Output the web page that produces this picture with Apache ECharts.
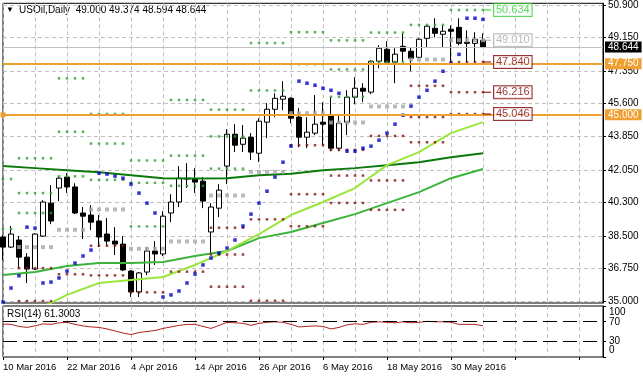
<!DOCTYPE html>
<html>
<head>
<meta charset="utf-8">
<script src="https://cdn.jsdelivr.net/npm/echarts@6/dist/echarts.min.js"></script>
<style>html,body{margin:0;padding:0;background:#fff}#chart{width:643px;height:378px}</style>
</head>
<body>
<div id="chart"></div>
<script>
// trading days shown (one bar each), future slots are added empty
var dates = ['10 Mar 2016','11 Mar 2016','14 Mar 2016','15 Mar 2016','16 Mar 2016','17 Mar 2016','18 Mar 2016','21 Mar 2016','22 Mar 2016','23 Mar 2016','24 Mar 2016','28 Mar 2016','29 Mar 2016','30 Mar 2016','31 Mar 2016','1 Apr 2016','4 Apr 2016','5 Apr 2016','6 Apr 2016','7 Apr 2016','8 Apr 2016','11 Apr 2016','12 Apr 2016','13 Apr 2016','14 Apr 2016','15 Apr 2016','18 Apr 2016','19 Apr 2016','20 Apr 2016','21 Apr 2016','22 Apr 2016','25 Apr 2016','26 Apr 2016','27 Apr 2016','28 Apr 2016','29 Apr 2016','2 May 2016','3 May 2016','4 May 2016','5 May 2016','6 May 2016','9 May 2016','10 May 2016','11 May 2016','12 May 2016','13 May 2016','16 May 2016','17 May 2016','18 May 2016','19 May 2016','20 May 2016','23 May 2016','24 May 2016','25 May 2016','26 May 2016','27 May 2016','30 May 2016','31 May 2016','1 Jun 2016','2 Jun 2016','3 Jun 2016'];
var emptySlots = 15;

// [open, close, low, high]
var ohlc = [
  [38.44,37.90,37.20,38.55],[37.90,38.60,37.85,39.03],[38.28,37.36,36.77,38.49],[37.36,36.72,35.97,37.58],
  [36.72,38.60,36.67,38.65],[38.49,40.32,38.44,40.42],[40.26,39.30,39.13,41.23],[41.07,41.60,40.37,41.71],
  [41.66,41.13,40.81,41.87],[41.13,39.73,39.67,41.33],[39.73,39.56,38.33,40.05],[39.62,39.24,38.81,40.15],
  [39.30,38.44,37.90,39.62],[38.60,38.22,38.01,39.46],[38.22,38.06,37.47,38.97],[38.06,36.67,36.61,38.49],
  [36.61,35.49,35.22,36.67],[35.49,36.51,35.22,36.56],[36.56,37.69,36.40,37.90],[37.69,37.53,36.94,38.22],
  [37.53,39.56,37.42,39.83],[39.73,40.32,39.24,40.74],[40.32,41.60,40.05,42.25],[41.60,41.55,41.07,42.41],
  [41.55,41.39,40.81,42.14],[41.44,40.37,39.99,41.66],[38.71,40.05,37.58,40.26],[39.99,40.96,39.51,41.28],
  [42.25,43.96,41.28,44.23],[43.96,43.37,43.00,44.50],[43.42,43.75,43.00,44.45],[43.80,43.00,42.57,44.02],
  [42.94,44.66,42.46,44.82],[44.61,45.30,43.75,45.63],[45.30,45.89,44.88,46.16],[45.84,46.00,45.25,46.81],
  [45.89,44.82,44.55,45.95],[44.88,43.80,43.26,45.36],[43.80,44.07,43.21,44.88],[44.02,44.50,43.91,46.06],
  [44.61,44.50,43.37,45.68],[44.98,43.21,43.05,45.95],[43.21,44.55,43.05,44.98],[44.61,45.95,43.91,46.32],
  [45.95,46.43,45.57,47.02],[46.43,46.27,45.68,46.70],[46.22,47.88,46.11,47.93],[47.88,48.58,47.50,48.74],
  [48.52,47.83,47.83,48.95],[47.83,48.26,46.70,48.58],[48.68,48.42,47.88,49.38],[48.42,48.04,47.34,48.63],
  [48.09,49.06,48.04,49.11],[49.11,49.76,48.63,49.81],[49.65,49.38,49.17,50.19],[49.33,49.49,48.63,49.81],
  [49.60,49.49,47.88,49.81],[49.70,48.84,48.74,50.19],[48.90,48.84,47.83,49.54],[48.84,49.06,47.83,49.44],
  [49.000,48.644,48.594,49.374]
];

// parabolic SAR, one per bar
var sar = [34.95,35.70,36.36,38.97,38.92,35.97,36.02,36.24,36.61,37.04,37.42,37.74,41.87,41.82,41.71,41.60,
  41.28,40.80,40.26,39.73,35.22,35.33,35.54,35.97,36.45,36.94,37.31,37.58,37.85,38.28,39.03,39.67,40.26,40.90,
  41.66,42.46,43.32,46.81,46.70,46.59,46.43,46.32,46.16,43.05,43.05,43.21,43.32,43.64,44.02,44.50,44.98,45.47,
  45.95,46.32,46.81,47.34,47.77,48.25,50.19,50.19,50.13];

// moving averages, read every 4th bar
var maBars = [0,4,8,12,16,20,24,28,32,36,40,44,48,52,56,60];
var maSlow = [42.25,42.14,42.03,41.92,41.76,41.60,41.58,41.60,41.76,41.84,42.03,42.14,42.30,42.46,42.73,42.94];
var maMid = [36.40,36.56,36.88,37.04,37.04,37.10,37.42,37.69,38.38,38.71,39.19,39.67,40.26,40.85,41.60,42.09];
var maFast = [null,34.47,35.33,35.97,36.13,36.29,36.94,37.69,38.60,39.62,40.32,41.07,42.30,43.00,44.02,44.61];

// weekly pivot levels (first/last bar of each week)
var weekStart = [0,2,7,11,16,21,26,31,36,41,46,51,56];
var weekEnd = [1,6,10,15,20,25,30,35,40,45,50,55,60];
var pivP = [null,37.90,38.83,39.92,37.81,38.20,40.67,41.94,45.09,44.59,45.45,47.97,49.010];
var pivR1 = [38.87,39.73,41.70,41.51,39.01,41.19,42.11,46.31,47.72,45.97,47.84,49.83,50.634];
var pivR2 = [41.55,40.80,44.09,43.46,41.35,42.81,43.84,48.86,49.44,47.44,49.42,null,null];
var pivR3 = [null,42.67,46.96,45.05,42.55,45.80,45.28,null,null,49.00,null,null,null];
var pivS1 = [null,36.77,36.44,37.97,35.47,36.58,38.94,39.39,43.37,43.12,43.87,46.56,47.840];
var pivS2 = [null,35.00,null,36.38,null,null,37.50,35.02,40.74,41.74,41.48,44.88,46.216];
var pivS3 = [null,null,null,null,null,null,35.77,null,39.02,40.27,39.90,43.53,45.046];

var rsi = [64.6,64,60,58,61,65,64,67,68,64,61,59,58,55,51,47,44,48,50,52,56,59,62,64,64,60,56,62,68,67,66,62,
  66,68,69,68,64,59,60,61,60,55,58,63,65,64,68,69,68,67,69,67,68,70,69,69,68,64,64,64,61.3003];

var priceTicks = [35.000,36.750,38.500,40.300,42.050,43.850,45.600,47.350,49.150,50.900];
var rsiTicks = [0,30,70,100];
var lastPrice = 48.644;
var hLines = [47.750, 45.000];

var FONT = 'Liberation Sans';
var FS = 9.5;
var categories = dates.concat(new Array(emptySlots).fill(''));

function weekDots(levels) {
  var pts = [];
  for (var w = 0; w < weekStart.length; w++) {
    if (levels[w] == null) continue;
    for (var i = weekStart[w]; i <= weekEnd[w]; i++) pts.push([i, levels[w]]);
  }
  return pts;
}
function dotSeries(levels, color, size) {
  return {
    type: 'scatter', xAxisIndex: 0, yAxisIndex: 0, symbol: 'rect', symbolSize: size,
    itemStyle: {color: color}, data: weekDots(levels), silent: true, z: 4
  };
}
function maSeries(vals, color) {
  var pts = [];
  maBars.forEach(function (b, k) { if (vals[k] != null) pts.push([b, vals[k]]); });
  return {
    type: 'line', xAxisIndex: 0, yAxisIndex: 0, data: pts, showSymbol: false,
    lineStyle: {color: color, width: 2}, silent: true, z: 3
  };
}

var last = weekStart.length - 1;
var tags = [
  {v: pivR1[last], c: '#32cd32'},
  {v: pivP[last], c: '#a9a9a9'},
  {v: pivS1[last], c: '#800000'},
  {v: pivS2[last], c: '#800000'},
  {v: pivS3[last], c: '#800000'}
];
var tagSeries = [];
tags.forEach(function (t) {
  tagSeries.push({
    type: 'line', xAxisIndex: 0, yAxisIndex: 0, showSymbol: false, silent: true, z: 5,
    lineStyle: {color: t.c, width: 1},
    data: [[dates.length - 1, t.v], [dates.length, t.v]]
  });
  tagSeries.push({
    type: 'scatter', xAxisIndex: 0, yAxisIndex: 0, symbolSize: 0, silent: true, z: 6,
    data: [[dates.length, t.v]],
    label: {
      show: true, position: 'right', distance: 3, formatter: t.v.toFixed(3),
      color: t.c, fontFamily: FONT, fontSize: 11, backgroundColor: '#fff',
      borderColor: t.c, borderWidth: 1, padding: [1, 2, 0, 2]
    }
  });
});

function priceTag(v, bg) {
  return {position: 'end', distance: 2, formatter: v.toFixed(3), color: '#fff', backgroundColor: bg,
    padding: [1, 3, 0, 3], fontSize: FS + 0.5, fontFamily: FONT};
}

var option = {
  backgroundColor: '#fff',
  animation: false,
  textStyle: {fontFamily: FONT},
  grid: [
    {left: 3, right: 40, top: 3, height: 300, show: true, borderColor: '#000', borderWidth: 1, backgroundColor: '#fff'},
    {left: 3, right: 40, top: 306, height: 51, show: true, borderColor: '#000', borderWidth: 1, backgroundColor: '#fff'}
  ],
  xAxis: [
    {type: 'category', gridIndex: 0, data: categories, boundaryGap: false,
      axisLine: {show: false}, axisTick: {show: false}, axisLabel: {show: false},
      splitLine: {show: true, interval: 3, lineStyle: {color: '#c0c0c0', type: [4, 3]}}},
    {type: 'category', gridIndex: 1, data: categories, boundaryGap: false,
      axisLine: {show: false},
      axisTick: {show: true, interval: 7, length: 3, lineStyle: {color: '#000'}},
      axisLabel: {show: true, interval: 7, align: 'left', margin: 5, color: '#000', fontSize: FS, fontFamily: FONT},
      splitLine: {show: true, interval: 3, lineStyle: {color: '#c0c0c0', type: [4, 3]}}}
  ],
  yAxis: [
    {type: 'value', gridIndex: 0, position: 'right', min: 34.897, max: 50.991, scale: true,
      axisLine: {show: true, lineStyle: {color: '#000'}},
      axisTick: {show: true, length: 3, customValues: priceTicks, lineStyle: {color: '#000'}},
      axisLabel: {customValues: priceTicks, margin: 5, color: '#000', fontSize: FS + 0.5, fontFamily: FONT,
        showMaxLabel: true, formatter: function (v) { return v.toFixed(3); }},
      splitLine: {show: true, lineStyle: {color: '#c0c0c0', type: [4, 3]}}},
    {type: 'value', gridIndex: 1, position: 'right', min: 0, max: 100,
      axisLine: {show: true, lineStyle: {color: '#000'}},
      axisTick: {show: true, length: 3, customValues: rsiTicks, lineStyle: {color: '#000'}},
      axisLabel: {show: false},
      splitLine: {show: false}}
  ],
  graphic: [
    {type: 'text', left: 6, top: 6, style: {text: '\u25BC', font: '8px ' + FONT, fill: '#000'}},
    {type: 'text', left: 19, top: 5, style: {text: 'USOil,Daily  49.000 49.374 48.594 48.644', font: '10px ' + FONT, fill: '#000'}},
    {type: 'text', left: 7, top: 309, style: {text: 'RSI(14) 61.3003', font: '10px ' + FONT, fill: '#000'}},
    // RSI scale labels (clamped inside the panel like the terminal does)
    {type: 'text', left: 609, top: 307, style: {text: String(rsiTicks[3]), font: '10px ' + FONT, fill: '#000'}},
    {type: 'text', left: 609, top: 317, style: {text: String(rsiTicks[2]), font: '10px ' + FONT, fill: '#000'}},
    {type: 'text', left: 609, top: 336, style: {text: String(rsiTicks[1]), font: '10px ' + FONT, fill: '#000'}},
    {type: 'text', left: 609, top: 345, style: {text: String(rsiTicks[0]), font: '10px ' + FONT, fill: '#000'}}
  ],
  series: [
    {
      type: 'candlestick', xAxisIndex: 0, yAxisIndex: 0, data: ohlc, barWidth: 5, z: 2,
      itemStyle: {color: '#fff', color0: '#000', borderColor: '#000', borderColor0: '#000', borderWidth: 1},
      markLine: {
        silent: true, symbol: 'none', animation: false,
        data: [
          {yAxis: lastPrice, lineStyle: {color: '#c0c0c0', width: 1, type: 'solid'}, label: priceTag(lastPrice, '#000')},
          {yAxis: hLines[0], lineStyle: {color: '#f0a030', width: 2, type: 'solid'}, label: priceTag(hLines[0], '#f0a030')},
          {yAxis: hLines[1], lineStyle: {color: '#f0a030', width: 2, type: 'solid'}, label: priceTag(hLines[1], '#f0a030'),
            symbol: ['rect', 'rect'], symbolSize: 5}
        ]
      }
    },
    maSeries(maSlow, '#0b7a0b'),
    maSeries(maMid, '#3cb43c'),
    maSeries(maFast, '#9ae63c'),
    dotSeries(pivP, '#a9a9a9', 4),
    dotSeries(pivR1, '#2e9e2e', 2.5),
    dotSeries(pivR2, '#2e9e2e', 2.5),
    dotSeries(pivR3, '#2e9e2e', 2.5),
    dotSeries(pivS1, '#8b1010', 2.5),
    dotSeries(pivS2, '#8b1010', 2.5),
    dotSeries(pivS3, '#8b1010', 2.5),
    {type: 'scatter', xAxisIndex: 0, yAxisIndex: 0, symbol: 'rect', symbolSize: 3.5,
      itemStyle: {color: '#0000cd'}, data: sar.map(function (v, i) { return [i, v]; }), silent: true, z: 4},
    {type: 'line', xAxisIndex: 1, yAxisIndex: 1, data: rsi, showSymbol: false, silent: true,
      lineStyle: {color: '#b22222', width: 1},
      markLine: {silent: true, symbol: 'none', label: {show: false},
        lineStyle: {color: '#000', width: 1, type: [14, 6]},
        data: [{yAxis: 70}, {yAxis: 30}]}}
  ].concat(tagSeries)
};

var chart = echarts.init(document.getElementById('chart'));
chart.setOption(option);
</script>
</body>
</html>
